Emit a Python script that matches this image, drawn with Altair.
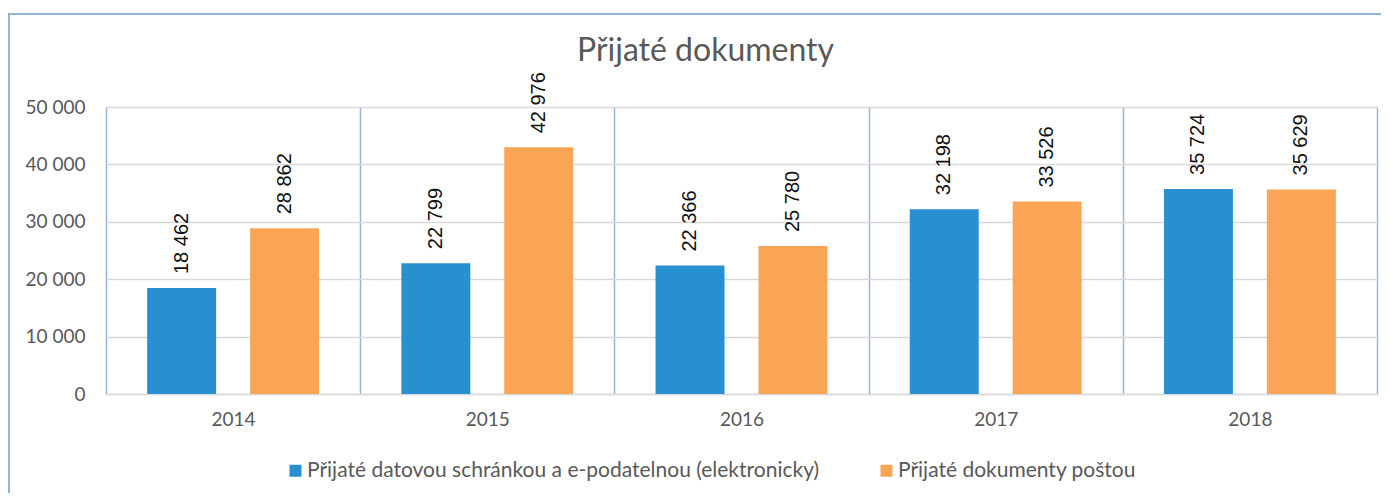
import altair as alt
import pandas as pd

years = ["2014", "2015", "2016", "2017", "2018"]
series = [
    "Přijaté datovou schránkou a e-podatelnou (elektronicky)",
    "Přijaté dokumenty poštou",
]
electronic = [18462, 22799, 22366, 32198, 35724]
post = [28862, 42976, 25780, 33526, 35629]
colors = ["#2890D0", "#F9A555"]
y_ticks = [0, 10000, 20000, 30000, 40000, 50000]

rows = []
for i, yr in enumerate(years):
    for s, vals in zip(series, [electronic, post]):
        rows.append({
            "year": yr,
            "series": s,
            "value": vals[i],
            "label": f"{vals[i]:,}".replace(",", " "),
        })
df = pd.DataFrame(rows)

W, H = 1271, 287
TXT = "#595959"
BLUE_LINE = "#94B4DB"
GRID = "#D9D9D9"

base = alt.Chart(df).encode(
    x=alt.X(
        "year:N",
        sort=years,
        scale=alt.Scale(paddingInner=0, paddingOuter=0),
        axis=alt.Axis(
            title=None, labelAngle=0, grid=True, tickBand="extent",
            gridColor=BLUE_LINE, gridWidth=1.5, ticks=False,
            domainColor=GRID, domainWidth=1.5,
            labelFont="Lato", labelFontSize=19, labelColor=TXT, labelPadding=16,
        ),
    ),
    xOffset=alt.XOffset(
        "series:N", sort=series,
        scale=alt.Scale(paddingInner=0.33, paddingOuter=0.4),
    ),
    y=alt.Y(
        "value:Q",
        scale=alt.Scale(domain=[0, 50000], nice=False),
        axis=alt.Axis(
            title=None, values=y_ticks, domain=False, ticks=False,
            gridColor=GRID, gridWidth=1.5,
            labelExpr="replace(format(datum.value, ','), ',', ' ')",
            labelFont="Lato", labelFontSize=19, labelColor=TXT, labelPadding=21,
        ),
    ),
)

bars = base.mark_bar().encode(
    color=alt.Color(
        "series:N",
        sort=series,
        scale=alt.Scale(domain=series, range=colors),
        legend=alt.Legend(
            title=None, orient="none", legendX=179, legendY=353,
            direction="horizontal", symbolType="square", symbolSize=144,
            symbolStrokeWidth=0, labelFont="Lato", labelFontSize=21,
            labelColor=TXT, labelLimit=0, columnPadding=56, labelOffset=1,
            padding=0,
        ),
    )
)

labels = base.mark_text(
    angle=270, align="left", baseline="middle", dx=14,
    font="Liberation Sans", fontSize=20, color="#111111",
).encode(text="label:N")

frame = alt.Chart(pd.DataFrame({"a": [0]})).mark_rect(
    fill="transparent", stroke=BLUE_LINE, strokeWidth=2
).encode(
    x=alt.value(-97), x2=alt.value(1300), y=alt.value(-93), y2=alt.value(420)
)

chart = alt.layer(frame, bars, labels).properties(
    width=W,
    height=H,
    autosize=alt.AutoSizeParams(type="none"),
    padding={"left": 98, "top": 99, "right": 4, "bottom": 99},
    title=alt.Title(
        "Přijaté dokumenty", font="Lato", fontSize=32, fontWeight="normal",
        color=TXT, anchor="middle", frame="group", dx=-36, offset=-80,
        baseline="alphabetic",
    ),
).configure_view(stroke="transparent")

chart.save("out.html", embed_options={"renderer": "svg", "actions": False})
